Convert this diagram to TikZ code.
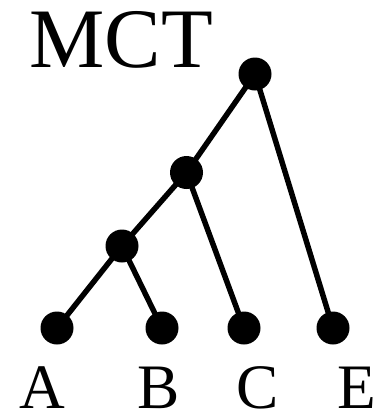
\documentclass[tikz,border=0pt]{standalone}
\usepackage{fontspec}
\setmainfont{LiberationSerif}[Extension=.ttf,UprightFont=*-Regular]
\begin{document}
\begin{tikzpicture}[x=0.75pt,y=-0.75pt,
  dot/.style={circle,fill=black,inner sep=0pt,minimum size=24.75pt},
  edge/.style={line width=4.1pt},
  leaflabel/.style={anchor=base,font=\fontsize{47.5pt}{50pt}\selectfont,inner sep=0pt}]
  \useasboundingbox (0,0) rectangle (379,411);
  % title
  \node[anchor=base west,inner sep=0pt,font=\fontsize{63.5pt}{68pt}\selectfont] (title) at (29,67) {MCT};
  % tree nodes
  \node[dot] (root) at (255,74) {};
  \node[dot] (mid) at (186.5,172.5) {};
  \node[dot] (low) at (122,246) {};
  \node[dot] (a) at (57,328) {};
  \node[dot] (b) at (162,328) {};
  \node[dot] (c) at (244,328) {};
  \node[dot] (e) at (333,328) {};
  % branches
  \draw[edge] (root.center) -- (mid.center);
  \draw[edge] (root.center) -- (e.center);
  \draw[edge] (mid.center) -- (low.center);
  \draw[edge] (mid.center) -- (c.center);
  \draw[edge] (low.center) -- (a.center);
  \draw[edge] (low.center) -- (b.center);
  % leaf labels
  \node[leaflabel] (la) at (42,408) {A};
  \node[leaflabel] (lb) at (159,408) {B};
  \node[leaflabel] (lc) at (258,408) {C};
  \node[leaflabel] (le) at (357,408) {E};
\end{tikzpicture}
\end{document}
